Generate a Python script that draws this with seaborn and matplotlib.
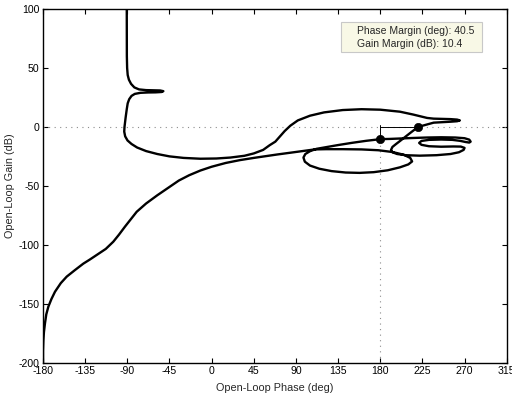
import numpy as np
import pandas as pd
import matplotlib
matplotlib.use("Agg")
import matplotlib.pyplot as plt
import seaborn as sns
from matplotlib.patches import Rectangle

# ---- data (phase in deg, gain in dB) ----
# low-frequency part: from top down to the phase-margin crossing
phase_low = [-90.6, -90.6, -90.5, -90.2, -89.6, -88.3, -86.0, -82.5, -77.5, -70, -62, -55, -51.5,
             -53.5, -60, -68, -76, -82, -85.5, -88, -89.6, -90.6, -91.8, -93.0, -93.3, -92.3,
             -89.8, -85.5, -79.5, -70, -58, -45, -30, -12, 5, 20, 35, 45, 55, 62, 68, 73, 78, 84,
             92, 105, 120, 140, 160, 180, 201, 215, 230, 237, 245, 255, 262, 265, 262, 255, 245,
             237, 232, 226, 220.5]
gain_low = [100, 80, 60, 50, 44, 40, 36.5, 33.5, 31.8, 31.2, 31.0, 30.9, 30.3,
            29.6, 29.3, 29.2, 28.9, 28.0, 26.3, 23.5, 20, 15, 8, 0, -4, -8,
            -11.5, -14.5, -17.5, -20.5, -23, -25, -26.3, -27, -26.8, -26, -24.5, -22.5, -19.5,
            -15.5, -12.5, -8, -3.5, 1, 5.5, 9.5, 12.3, 14.3, 15, 14.6, 12.9, 10.5, 7.6, 7.0, 6.8,
            6.6, 6.2, 5.5, 4.8, 4.4, 4.0, 3.6, 2.5, 1.2, 0]

# resonant loops between the two margin points
phase_loop = [213, 206.5, 201, 196.9, 193, 191.5, 193, 198, 207, 222, 240, 255, 264, 269, 270,
              266, 258, 245, 232, 224, 221.5, 224, 232, 245, 257, 265, 271, 275, 276.5, 275,
              270, 260, 245, 230, 215, 200, 190]
gain_loop = [-4.5, -8.6, -12, -14.5, -17, -19.5, -21.5, -23, -24, -24.4, -24, -23, -21.5, -19.5,
             -17.8, -16.7, -16.6, -16.8, -16.4, -15.2, -13.6, -11.9, -11, -10.7, -11, -11.8,
             -12.8, -13.3, -12.5, -10.8, -9.6, -9.0, -8.8, -9.0, -9.4, -9.9, -10.2]

# high-frequency part: from the gain-margin crossing down to -200 dB
phase_high = [180, 165, 150, 135, 122, 112, 105, 100, 98, 99.5, 105, 115, 128, 143, 158, 173,
              188, 201, 210, 214, 212, 205, 193, 178, 160, 140, 122, 110, 100, 85, 70, 58, 45,
              30, 15, 0, -12, -24, -35, -47, -58, -70, -80, -86, -92.5, -99, -105, -113, -122.7,
              -130, -137, -146, -154.7, -161, -167.2, -171, -174.3, -176.5, -177.9, -179,
              -179.6, -180, -180]
gain_high = [-10.4, -11.8, -13.5, -15.4, -17.2, -18.6, -20.6, -23, -26, -29.5, -32.8, -35.5,
             -37.5, -38.7, -39, -38.4, -36.8, -34.3, -31.8, -29.3, -26.3, -23.6, -21.3, -19.8,
             -19.1, -18.9, -18.9, -19.1, -20.2, -21.8, -23.4, -24.8, -26.3, -28.2, -30.6, -33.8,
             -37, -41, -45.5, -52, -58, -65, -72, -78, -84.6, -91.5, -97.4, -103.5, -108.7,
             -112.5, -116, -121.5, -127, -132.5, -139.8, -146, -152.5, -159, -166.6, -174,
             -181, -190, -200]

phase_margin = 40.5        # deg
gain_margin = 10.4         # dB
pm_phase = 180 + phase_margin
gm_phase = 180

x_ticks = [-180, -135, -90, -45, 0, 45, 90, 135, 180, 225, 270, 315]
y_ticks = [-200, -150, -100, -50, 0, 50, 100]

# ---- build frames ----
curve = pd.DataFrame({
    "phase": phase_low + phase_loop + phase_high,
    "gain": gain_low + gain_loop + gain_high,
})
curve["order"] = np.arange(len(curve))
markers = pd.DataFrame({"phase": [pm_phase, gm_phase], "gain": [0, -gain_margin]})

# ---- styling ----
sns.set_theme(style="ticks")
plt.rcParams["font.family"] = ["Liberation Sans", "DejaVu Sans"]
plt.rcParams["font.size"] = 7.6
plt.rcParams["axes.unicode_minus"] = False

fig = plt.figure(figsize=(5.12, 3.95), dpi=100)
ax = fig.add_axes([0.0840, 0.0818, 0.9057, 0.8954])
ax.set_facecolor("white")

# grid references (0 dB and -180 deg lines)
ax.axhline(0, color="#8c8c8c", lw=0.8, ls=(0, (1, 4)), zorder=1)
ax.plot([gm_phase, gm_phase], [-200, 0], color="#8c8c8c", lw=0.8, ls=(0, (1, 4)), zorder=1)

# margin lines
ax.plot([gm_phase, pm_phase], [0, 0], color="black", lw=0.7, zorder=2)
ax.plot([gm_phase, gm_phase], [2, -gain_margin], color="black", lw=0.7, zorder=2)

# main Nichols curve
sns.lineplot(data=curve, x="phase", y="gain", sort=False, estimator=None,
             color="black", lw=1.7, ax=ax, zorder=3)
sns.scatterplot(data=markers, x="phase", y="gain", color="black", s=36,
                edgecolor="black", ax=ax, zorder=4)

ax.set_xlim(-180, 315)
ax.set_ylim(-200, 100)
ax.set_xticks(x_ticks)
ax.set_yticks(y_ticks)
ax.tick_params(direction="in", length=3.5, width=0.8, top=True, right=True,
               labelsize=7.6, pad=2.5, colors="black")
for s in ax.spines.values():
    s.set_visible(True)
    s.set_linewidth(1.0)
    s.set_color("black")

ax.set_xlabel("Open-Loop Phase (deg)", fontsize=7.8)
ax.set_ylabel("Open-Loop Gain (dB)", fontsize=7.8)
ax.xaxis.set_label_coords(0.5, -0.058)
ax.yaxis.set_label_coords(-0.061, 0.5)

# margins box
ax.add_patch(Rectangle((0.642, 0.878), 0.305, 0.086, transform=ax.transAxes,
                       facecolor="#f8f8e6", edgecolor="#c8c8c8", lw=0.8, zorder=5))
ax.text(0.678, 0.939, f"Phase Margin (deg): {phase_margin}", transform=ax.transAxes,
        ha="left", va="center", fontsize=7.5, zorder=6)
ax.text(0.678, 0.901, f"Gain Margin (dB): {gain_margin}", transform=ax.transAxes,
        ha="left", va="center", fontsize=7.5, zorder=6)

fig.savefig("out.png", dpi=100)
